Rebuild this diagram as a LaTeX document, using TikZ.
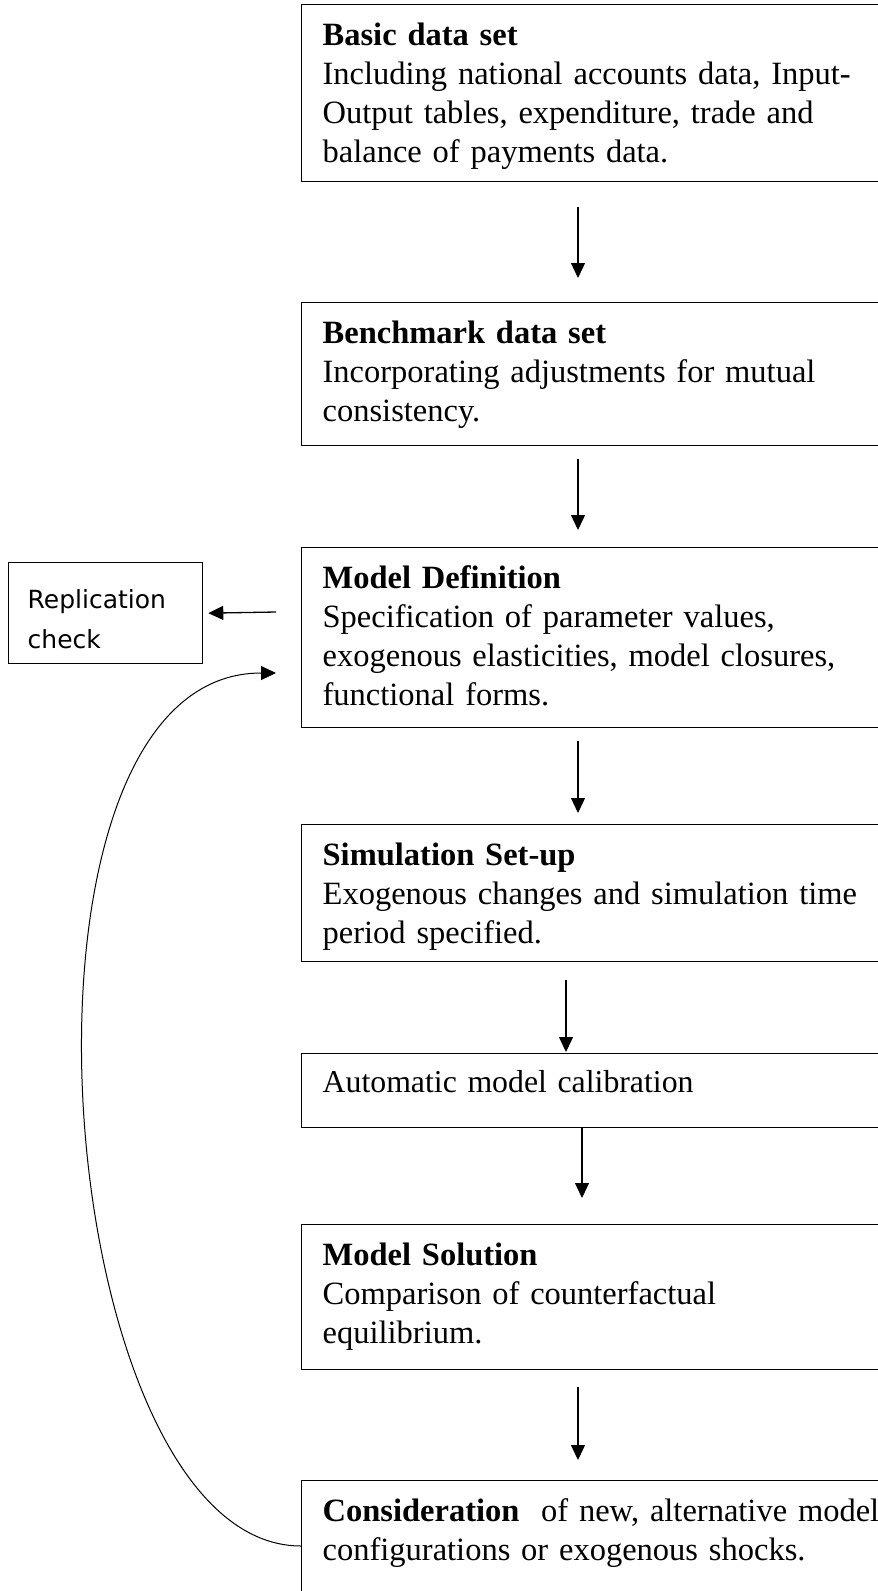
\documentclass[tikz,border=0pt]{standalone}
\usepackage{fontspec}
\usetikzlibrary{arrows.meta}
\setmainfont{Liberation Serif}
\newfontfamily\timesfont{Liberation Serif}
\newfontfamily\lucidafont{DejaVu Sans}

\begin{document}
\begin{tikzpicture}[x=1pt,y=-1pt,
		box/.style={shape=rectangle,draw=black,line width=1.3pt,anchor=north west,align=left,text width=557pt,inner xsep=21pt,inner ysep=0pt,text height=41pt,font=\fontsize{32.5}{39}\selectfont},
		side/.style={shape=rectangle,draw=black,line width=1.3pt,anchor=north west,align=left,text width=156pt,inner xsep=19pt,inner ysep=0pt,text height=46pt,text depth=55pt,font=\lucidafont\fontsize{25}{40}\selectfont},
		arr/.style={-{Triangle[length=15pt,width=14pt]},line width=1.3pt}]
		\clip (0,0) rectangle (878,1591);
		\useasboundingbox (0,0) rectangle (878,1591);
		
		\node[box,text depth=136pt] (basic) at (301,4) {\textbf{Basic data set}\\Including national accounts data, Input-\\Output tables, expenditure, trade and\\balance of payments data.};
		\node[box,text depth=102pt] (bench) at (301,302) {\textbf{Benchmark data set}\\Incorporating adjustments for mutual\\consistency.};
		\node[box,text depth=139pt] (def) at (301,547) {\textbf{Model Definition}\\Specification of parameter values,\\exogenous elasticities, model closures,\\functional forms.};
		\node[box,text depth=96pt] (sim) at (301,824) {\textbf{Simulation Set-up}\\Exogenous changes and simulation time\\period specified.};
		\node[box,text height=39pt,text depth=35pt,font=\timesfont\fontsize{31.8}{39}\selectfont] (calib) at (301,1053) {Automatic model calibration};
		\node[box,text depth=104pt] (sol) at (301,1224) {\textbf{Model Solution}\\Comparison of counterfactual\\equilibrium.};
		\node[box,text depth=150pt] (cons) at (301,1480) {\textbf{Consideration}\ \ of new, alternative model\\configurations or exogenous shocks.};
		\node[side] (rep) at (8,562) {Replication\\check};
		
		\draw[arr] ([xshift=277pt,yshift=-25pt]basic.south west) -- ([xshift=277pt,yshift=24pt]bench.north west);
		\draw[arr] ([xshift=277pt,yshift=-13pt]bench.south west) -- ([xshift=277pt,yshift=17pt]def.north west);
		\draw[arr] ([xshift=277pt,yshift=-13pt]def.south west) -- ([xshift=277pt,yshift=11pt]sim.north west);
		\draw[arr] ([xshift=265pt,yshift=-18pt]sim.south west) -- ([xshift=265pt,yshift=1pt]calib.north west);
		\draw[arr] ([xshift=281pt]calib.south west) -- ([xshift=281pt,yshift=26pt]sol.north west);
		\draw[arr] ([xshift=277pt,yshift=-17pt]sol.south west) -- ([xshift=277pt,yshift=20pt]cons.north west);
		\draw[arr] ([xshift=-25pt,yshift=-65pt]def.north west) -- ([xshift=5pt]rep.east);
		\draw[arr,line width=1pt] ([yshift=-66pt]cons.north west) .. controls +(-251,0) and +(-291,0) .. ([xshift=-25pt,yshift=-126pt]def.north west);
		
		\end{tikzpicture}
\end{document}
